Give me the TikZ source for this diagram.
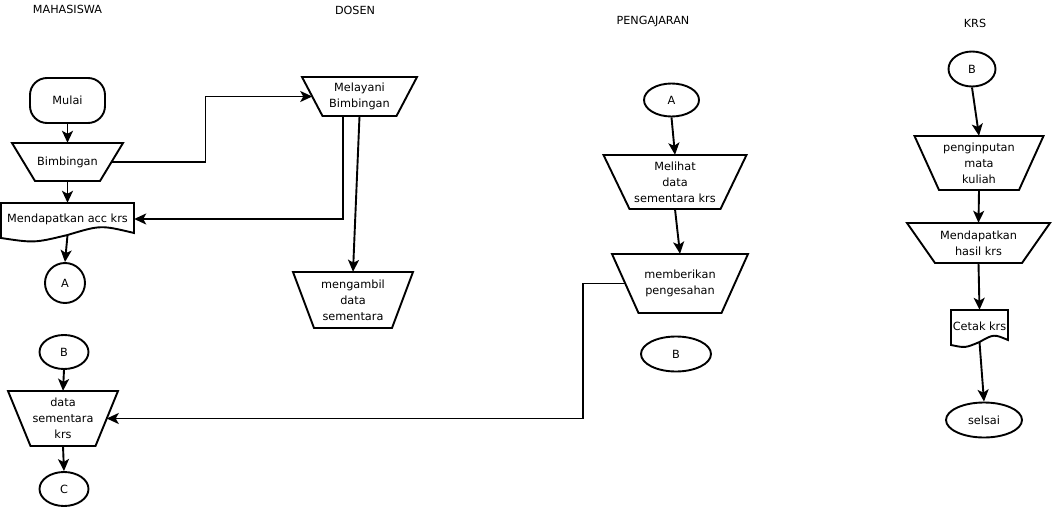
\documentclass[tikz,border=0pt]{standalone}
\usepackage{fontspec}
\setmainfont{DejaVu Sans}
\usetikzlibrary{shapes.geometric,arrows.meta,calc}
\tikzset{
  lbl/.style={font=\fontsize{11.3}{16}\selectfont, align=center, inner sep=0pt},
  ttl/.style={font=\fontsize{11.2}{13}\selectfont, inner sep=0pt},
  shp/.style={draw, line width=1.9pt, line join=miter},
  oval/.style={ellipse, draw, line width=1.9pt, inner sep=0pt, font=\fontsize{11.3}{13}\selectfont},
  arr/.style={line width=1.9pt, -{Stealth[length=12pt,width=11pt,inset=3pt]}},
  lnk/.style={line width=1.9pt}
}
\newcommand\trapz[7]{%
  \draw[shp] ({#2-#4/2},{#3-#6/2}) -- ({#2+#4/2},{#3-#6/2}) -- ({#2+#5/2},{#3+#6/2}) -- ({#2-#5/2},{#3+#6/2}) -- cycle;
  \node[lbl, minimum width=#4, minimum height=#6] (#1) at (#2,#3) {#7};
  \coordinate (#1-l) at ({#2-(#4+#5)/4},#3);
  \coordinate (#1-r) at ({#2+(#4+#5)/4},#3);
}
% name, x0, y0, x1, ye, amplitude, text
\newcommand\docshp[7]{%
  \draw[shp] (#2,#3) -- (#4,#3) -- (#4,{#5-2}) .. controls ({#2+0.75*(#4-#2)},{#5-2-2*#6}) .. ({(#2+#4)/2},#5) .. controls ({#2+0.25*(#4-#2)},{#5+2*#6}) .. (#2,{#5+3}) -- cycle;
  \node[lbl, minimum width={#4-#2}, minimum height={#5-#3}] (#1) at ({(#2+#4)/2},{(#3+#5)/2}) {#7};
}
\begin{document}
\begin{tikzpicture}[x=1pt,y=-1pt]
\useasboundingbox (0,0) rectangle (1054,508);

% titles
\node[ttl] (t1) at (67.5,9) {MAHASISWA};
\node[ttl] (t2) at (355,10) {DOSEN};
\node[ttl] (t3) at (653,21) {PENGAJARAN};
\node[ttl] (t4) at (975,23) {KRS};

% MAHASISWA column
\node[shp, rounded corners=17pt, minimum width=75pt, minimum height=45pt, lbl, draw] (mulai) at (67.5,100.5) {Mulai};
\trapz{bimb}{67.5}{162}{111}{65}{38}{Bimbingan}
\docshp{acc}{1}{203}{134}{235}{4}{Mendapatkan acc krs}
\node[oval, minimum width=40pt, minimum height=40pt] (a1) at (65,283) {A};

\node[oval, minimum width=49pt, minimum height=34pt] (b1) at (64,352) {B};
\trapz{dsk}{63}{418.5}{110}{65}{55}{data\\sementara\\krs}
\node[oval, minimum width=49pt, minimum height=34pt] (c1) at (64,489) {C};

% DOSEN column
\trapz{mel}{359.5}{96.5}{115}{74}{39}{Melayani\\Bimbingan}
\trapz{meng}{353}{300}{120}{78}{56}{mengambil\\data\\sementara}

% PENGAJARAN column
\node[oval, minimum width=55pt, minimum height=33pt] (a2) at (671.5,100) {A};
\trapz{lih}{675}{182}{143}{91}{54}{Melihat\\data\\sementara krs}
\trapz{peng}{680}{283.5}{136}{83}{59}{memberikan\\pengesahan}
\node[oval, minimum width=70pt, minimum height=35pt] (b2) at (676,354) {B};

% KRS column
\node[oval, minimum width=47pt, minimum height=35pt] (b3) at (972,69) {B};
\trapz{pmk}{979}{163}{129}{80}{54}{penginputan\\mata\\kuliah}
\trapz{mhk}{978.5}{243}{143}{87}{40}{Mendapatkan\\hasil krs}
\docshp{cetak}{951}{310}{1008}{342}{3}{Cetak krs}
\node[oval, minimum width=76pt, minimum height=35pt] (sel) at (984,420) {selsai};

% connectors
\draw[arr] (mulai.south) -- (bimb.north);
\draw[arr] (bimb.south) -- (acc.north);
\draw[arr] (acc.south) -- (a1.north);
\draw[arr] (bimb-r) -- ++(94,0) |- (mel-l);
\draw[arr] ($(mel.south)+(-16.5,0)$) |- (acc.east);
\draw[arr] (mel.south) -- (meng.north);
\draw[arr] (b1.south) -- (dsk.north);
\draw[arr] (dsk.south) -- (c1.north);
\draw[arr] (peng-l) -- ++(-42,0) |- (dsk-r);
\draw[arr] (a2.south) -- (lih.north);
\draw[arr] (lih.south) -- (peng.north);
\draw[arr] (b3.south) -- (pmk.north);
\draw[arr] (pmk.south) -- (mhk.north);
\draw[arr] (mhk.south) -- (cetak.north);
\draw[arr] (cetak.south) -- (sel.north);
\end{tikzpicture}
\end{document}
